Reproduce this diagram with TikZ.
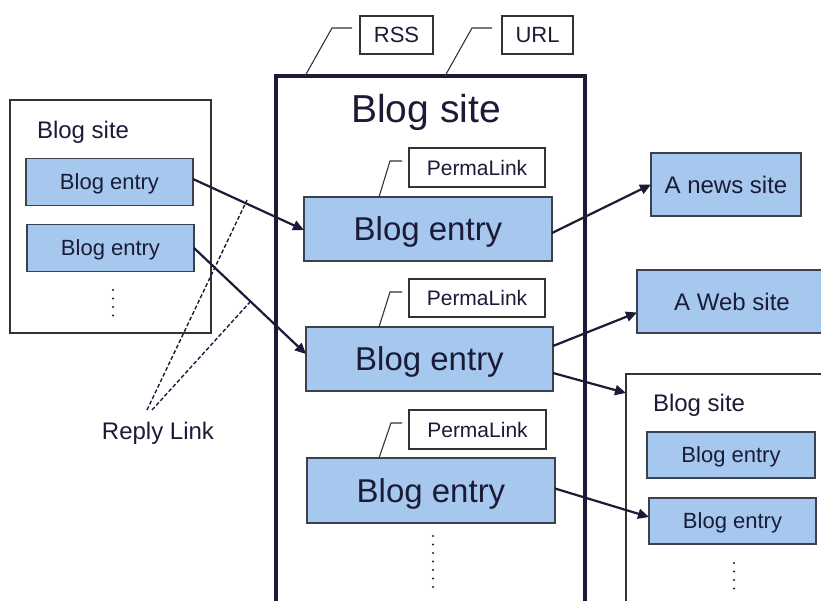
\documentclass[tikz,border=0pt]{standalone}
\usepackage{fontspec}
\setmainfont{Liberation Sans}
\usetikzlibrary{arrows.meta}
\definecolor{ink}{HTML}{1B1B38}
\definecolor{entryfill}{HTML}{A6C8EE}
\definecolor{edgecol}{HTML}{3A4252}
\definecolor{grayedge}{HTML}{333333}
\newcommand{\fsz}[1]{\fontsize{#1}{#1}\selectfont}
\begin{document}
\begin{tikzpicture}[x=1pt,y=-1pt,
  every node/.style={text=ink, inner sep=0pt, outer sep=0pt},
  fsA/.style={font=\fsz{33}, text height=23.6pt, text depth=0pt},
  fsB/.style={font=\fsz{24}, text height=17.2pt, text depth=0pt},
  fsC/.style={font=\fsz{22}, text height=15.8pt, text depth=0pt},
  fsD/.style={font=\fsz{21}, text height=15.0pt, text depth=0pt},
  entrybox/.style={draw=edgecol, line width=1.3pt, fill=entryfill},
  whitebox/.style={draw=grayedge, line width=1.2pt, fill=white},
  sitebox/.style={draw=grayedge, line width=1.4pt},
  mainbox/.style={draw=ink, line width=3.5pt},
  linkarrow/.style={draw=ink, line width=2.2pt, -{Triangle[length=11pt,width=10pt]}},
  callout/.style={draw=grayedge, line width=1.1pt},
  replyline/.style={draw=ink, line width=1.4pt, dash pattern=on 4pt off 2.2pt},
  dotcol/.style={draw=ink, line width=2.3pt, line cap=round, dash pattern=on 0pt off 8.5pt}]
\useasboundingbox (0,0) rectangle (821,600);

% ---------- left blog site ----------
\node[sitebox, minimum width=201pt, minimum height=233pt] (ls) at (110.5,216.5) {};
\node[anchor=base west, font=\fsz{24}] (lstitle) at (37,138) {Blog site};
\node[entrybox, fsC, minimum width=167pt, minimum height=47pt] (le1) at (109.5,182) {Blog entry};
\node[entrybox, fsC, minimum width=167pt, minimum height=47pt] (le2) at (110.5,248) {Blog entry};
\coordinate (ld1) at (113,290);
\coordinate (ld2) at (113,316);
\draw[dotcol] (ld1) -- (ld2);

% ---------- main blog site ----------
\node[mainbox, minimum width=309pt, minimum height=560pt] (ms) at (430.5,356) {};
\node[anchor=base, font=\fsz{39}] (mstitle) at (426,122) {Blog site};
\node[whitebox, fsC, minimum width=73pt, minimum height=38pt] (rss) at (396.5,35) {RSS};
\node[whitebox, fsC, minimum width=71pt, minimum height=38pt] (url) at (537.5,35) {URL};
\coordinate (rssa) at (305,76); \coordinate (rssb) at (332,28); \coordinate (rssc) at (352,28);
\coordinate (urla) at (445,76); \coordinate (urlb) at (472,28); \coordinate (urlc) at (492,28);
\draw[callout] (rssa) -- (rssb) -- (rssc);
\draw[callout] (urla) -- (urlb) -- (urlc);

\node[entrybox, fsA, minimum width=248pt, minimum height=64pt] (ea) at (428,229) {Blog entry};
\node[entrybox, fsA, minimum width=247pt, minimum height=64pt] (eb) at (429.5,359) {Blog entry};
\node[entrybox, fsA, minimum width=248pt, minimum height=65pt] (ec) at (431,490.5) {Blog entry};

\node[whitebox, fsD, minimum width=136pt, minimum height=39pt] (pla) at (477,167.5) {PermaLink};
\node[whitebox, fsD, minimum width=136pt, minimum height=38pt] (plb) at (477,298) {PermaLink};
\node[whitebox, fsD, minimum width=137pt, minimum height=39pt] (plc) at (477.5,429.5) {PermaLink};
\coordinate (plaa) at (379,197); \coordinate (plab) at (390,161); \coordinate (plac) at (402,161);
\coordinate (plba) at (379,327); \coordinate (plbb) at (390,292); \coordinate (plbc) at (402,292);
\coordinate (plca) at (379,458); \coordinate (plcb) at (391,423); \coordinate (plcc) at (402,423);
\draw[callout] (plaa) -- (plab) -- (plac);
\draw[callout] (plba) -- (plbb) -- (plbc);
\draw[callout] (plca) -- (plcb) -- (plcc);

\coordinate (md1) at (433,536);
\coordinate (md2) at (433,592);
\draw[dotcol] (md1) -- (md2);

% ---------- right side ----------
\node[entrybox, fsB, minimum width=150pt, minimum height=63pt] (news) at (726,184.5) {A news site};
\node[entrybox, fsB, minimum width=190pt, minimum height=63pt] (web) at (732,301.5) {A Web site};

\node[sitebox, minimum width=220pt, minimum height=250pt] (rs) at (736,499) {};
\node[anchor=base west, font=\fsz{24}] (rstitle) at (653,411) {Blog site};
\node[entrybox, fsC, minimum width=168pt, minimum height=46pt] (re1) at (731,455) {Blog entry};
\node[entrybox, fsC, minimum width=167pt, minimum height=46pt] (re2) at (732.5,521) {Blog entry};
\coordinate (rd1) at (734,563);
\coordinate (rd2) at (734,592);
\draw[dotcol] (rd1) -- (rd2);

% ---------- links ----------
\draw[linkarrow] ([yshift=3pt]le1.east) -- ([yshift=-1pt]ea.west);
\draw[linkarrow] (le2.east) -- ([yshift=5pt]eb.west);
\draw[linkarrow] ([yshift=-4pt]ea.east) -- (news.west);
\draw[linkarrow] ([yshift=13pt]eb.east) -- ([yshift=-11pt]web.west);
\draw[linkarrow] ([yshift=-14pt]eb.east) -- ([yshift=-19pt]rs.north west);
\draw[linkarrow] ([yshift=2pt]ec.east) -- ([yshift=4pt]re2.west);

% ---------- reply link ----------
\node[anchor=base, font=\fsz{24}] (reply) at (158,439) {Reply Link};
\coordinate (rla) at (147,410); \coordinate (rlb) at (152,410);
\coordinate (rlt1) at (247,200); \coordinate (rlt2) at (250,302);
\draw[replyline] (rla) -- (rlt1);
\draw[replyline] (rlb) -- (rlt2);
\end{tikzpicture}
\end{document}
